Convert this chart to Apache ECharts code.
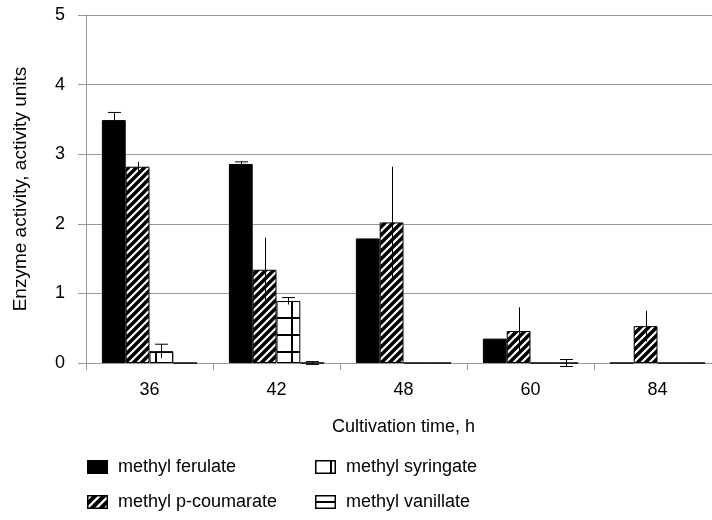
<!DOCTYPE html>
<html><head><meta charset="utf-8">
<script src="https://cdn.jsdelivr.net/npm/echarts@6/dist/echarts.min.js"></script>
<style>html,body{margin:0;padding:0;background:#fff;overflow:hidden;width:712px;height:520px}#c{width:721px;height:520px}</style>
</head><body><div id="c"></div>
<script>
const categories = ['36', '42', '48', '60', '84'];
const seriesNames = ['methyl ferulate', 'methyl p-coumarate', 'methyl syringate', 'methyl vanillate'];
const ferulate = [3.49, 2.86, 1.79, 0.35, 0];
const ferulateErr = [0.11, 0.03, 0, 0, 0];
const coumarate = [2.82, 1.34, 2.02, 0.46, 0.53];
const coumarateErr = [0.07, 0.46, 0.80, 0.34, 0.22];
const syringate = [0.17, 0.89, 0, 0, 0];
const syringateErr = [0.10, 0.05, 0, 0, 0];
const vanillate = [0, 0, 0, 0, 0];
const vanillateErr = [0, 0.02, 0, 0.05, 0];
const yTicks = [0, 1, 2, 3, 4, 5];

const values = [ferulate, coumarate, syringate, vanillate];
const errors = [ferulateErr, coumarateErr, syringateErr, vanillateErr];
const capMode = ['top', 'none', 'top', 'both'];

function makeTile(w, h, draw) {
  const c = document.createElement('canvas');
  c.width = w; c.height = h;
  const x = c.getContext('2d');
  x.fillStyle = '#fff'; x.fillRect(0, 0, w, h);
  x.strokeStyle = '#000';
  draw(x, w, h);
  return c;
}
const hatch = makeTile(8, 8, (x) => {
  x.lineWidth = 3.5;
  x.beginPath();
  x.moveTo(-2, 10); x.lineTo(10, -2);
  x.moveTo(-6, 6); x.lineTo(6, -6);
  x.moveTo(2, 14); x.lineTo(14, 2);
  x.stroke();
});
const gridTile = makeTile(17, 17, (x) => {
  x.lineWidth = 2;
  x.beginPath();
  x.moveTo(3, 0); x.lineTo(3, 17);
  x.moveTo(0, 12); x.lineTo(17, 12);
  x.stroke();
});
const hlines = makeTile(8, 7, (x) => {
  x.lineWidth = 1.5;
  x.beginPath();
  x.moveTo(0, 3.5); x.lineTo(8, 3.5);
  x.stroke();
});
const fills = [
  '#000',
  { image: hatch, repeat: 'repeat' },
  { image: gridTile, repeat: 'repeat' },
  { image: hlines, repeat: 'repeat' }
];

// legend swatches
function swatch(kind) {
  const W = 21, H = 14;
  const c = document.createElement('canvas');
  c.width = W; c.height = H;
  const x = c.getContext('2d');
  x.fillStyle = kind === 0 ? '#000' : '#fff';
  x.fillRect(0, 0, W, H);
  x.strokeStyle = '#000';
  if (kind === 1) {
    x.save();
    x.beginPath(); x.rect(0, 0, W, H); x.clip();
    x.lineWidth = 4;
    x.beginPath();
    for (let s = -14; s < W + 14; s += 9) { x.moveTo(s, H); x.lineTo(s + H, 0); }
    x.stroke();
    x.restore();
  } else if (kind === 2) {
    x.lineWidth = 2;
    x.beginPath(); x.moveTo(16, 0); x.lineTo(16, H); x.stroke();
  } else if (kind === 3) {
    x.lineWidth = 2;
    x.beginPath(); x.moveTo(0, 7); x.lineTo(W, 7); x.stroke();
  }
  x.lineWidth = 1.5;
  x.strokeRect(0.75, 0.75, W - 1.5, H - 1.5);
  return 'image://' + c.toDataURL();
}

const FRAC = 0.75;
const series = [];
seriesNames.forEach((n, i) => {
  series.push({
    name: n, type: 'bar', data: values[i],
    barGap: '0%', barCategoryGap: ((1 - FRAC) * 100) + '%',
    itemStyle: { color: fills[i], borderColor: '#000', borderWidth: 1 },
    emphasis: { disabled: true }, z: 2
  });
});
seriesNames.forEach((n, i) => {
  const data = values[i].map((v, k) => [k, v, errors[i][k]]).filter(d => d[2] > 0);
  series.push({
    name: n + ' err', type: 'custom', z: 5, silent: true,
    data: data,
    renderItem: function (params, api) {
      const k = api.value(0), v = api.value(1), e = api.value(2);
      const band = api.size([1, 0])[0];
      const bw = band * FRAC / 4;
      const off = (i - 1.5) * bw;
      const top = api.coord([k, v + e]);
      const bot = api.coord([k, v - e]);
      const x = Math.round(top[0] + off) + 0.5;
      const cap = 6.5;
      const st = { stroke: '#000', lineWidth: 1 };
      const ch = [{ type: 'line', shape: { x1: x, y1: top[1], x2: x, y2: bot[1] }, style: st }];
      if (capMode[i] === 'top' || capMode[i] === 'both')
        ch.push({ type: 'line', shape: { x1: x - cap, y1: top[1], x2: x + cap, y2: top[1] }, style: st });
      if (capMode[i] === 'both')
        ch.push({ type: 'line', shape: { x1: x - cap, y1: bot[1], x2: x + cap, y2: bot[1] }, style: st });
      return { type: 'group', children: ch };
    }
  });
});

const font = 'Liberation Sans, Arial, sans-serif';
const legendPos = [[87, 458], [87, 493], [315, 458], [315, 493]];
const legends = seriesNames.map((n, i) => ({
  data: [{ name: n, icon: swatch(i) }],
  left: legendPos[i][0], top: legendPos[i][1],
  itemWidth: 21, itemHeight: 14, padding: 0,
  textStyle: { fontSize: 18, color: '#000', fontFamily: font, padding: [0, 0, 0, 5] },
  selectedMode: false
}));

const chart = echarts.init(document.getElementById('c'), null, { renderer: 'canvas' });
chart.setOption({
  animation: false,
  backgroundColor: '#fff',
  textStyle: { fontFamily: font },
  grid: { left: 86, right: 0, top: 15, bottom: 157, containLabel: false },
  legend: legends,
  xAxis: {
    type: 'category', data: categories,
    name: 'Cultivation time, h', nameLocation: 'middle', nameGap: 55,
    nameTextStyle: { fontSize: 18, color: '#000', fontFamily: font },
    axisLine: { lineStyle: { color: '#999', width: 1 } },
    axisTick: { show: true, length: 7, lineStyle: { color: '#999' } },
    axisLabel: { fontSize: 18, color: '#000', margin: 18, fontFamily: font },
    splitLine: { show: false }
  },
  yAxis: {
    type: 'value', min: yTicks[0], max: yTicks[yTicks.length - 1], interval: 1,
    name: 'Enzyme activity, activity units', nameLocation: 'middle', nameGap: 56,
    nameTextStyle: { fontSize: 19, color: '#000', fontFamily: font },
    axisLine: { show: true, lineStyle: { color: '#999', width: 1 } },
    axisTick: { show: true, length: 8, lineStyle: { color: '#999' } },
    axisLabel: { fontSize: 18, color: '#000', margin: 21, fontFamily: font },
    splitLine: { show: true, lineStyle: { color: '#999', width: 1 } }
  },
  series: series
});
</script></body></html>
